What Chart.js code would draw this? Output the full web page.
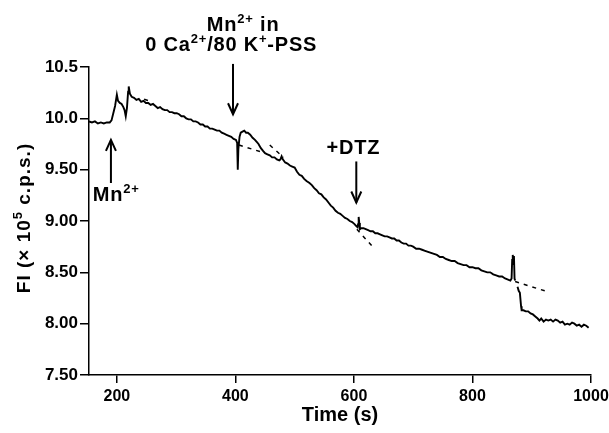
<!DOCTYPE html>
<html><head><meta charset="utf-8">
<script src="https://cdn.jsdelivr.net/npm/chart.js@4/dist/chart.umd.min.js"></script>
<style>html,body{margin:0;padding:0;background:#fff}#wrap{width:609px;height:433px;position:relative}</style>
</head><body><div id="wrap"><canvas id="c" width="609" height="433"></canvas></div>
<script>
// ---- data ----
const timeS = [153,158,163,168,173,178,183,188,191,194,197,200,202,205,208,211,213,215,217,219,220,222,225,229,233,237,241,245,249,253,257,261,265,269,273,277,281,285,289,293,297,301,305,309,313,317,321,325,329,333,337,341,345,349,353,357,361,365,369,373,377,381,385,389,393,397,401,403,404,405,407,409,412,415,418,421,425,429,433,436,439,443,447,450,454,458,462,466,470,474,476,478,480,484,488,492,496,500,504,508,512,516,520,525,529,533,537,541,545,549,553,557,561,565,569,573,577,581,585,589,593,597,601,604,606,607,608,609,610,612,616,620,624,628,632,636,640,644,648,652,656,660,664,668,672,676,680,684,688,692,696,700,705,710,715,720,725,730,735,740,745,750,755,760,765,770,775,780,785,790,795,800,805,810,815,820,825,830,835,840,845,850,855,860,864,866,867,868,869,870,871,872,873,876,878,880,882,883,886,890,894,898,902,906,910,913,916,920,924,928,932,936,940,944,948,952,956,960,964,968,972,976,980,984,988,992,996];
const fluor = [9.97,9.96,9.97,9.95,9.96,9.95,9.96,9.96,9.98,10.05,10.12,10.23,10.17,10.15,10.14,10.11,10.08,10.02,10.10,10.26,10.31,10.24,10.21,10.20,10.18,10.19,10.16,10.17,10.15,10.15,10.13,10.14,10.12,10.10,10.11,10.09,10.08,10.08,10.06,10.06,10.05,10.05,10.04,10.02,10.02,10.00,9.99,9.99,9.97,9.97,9.96,9.94,9.94,9.92,9.92,9.90,9.90,9.89,9.88,9.88,9.86,9.85,9.84,9.83,9.82,9.80,9.79,9.76,9.50,9.70,9.82,9.86,9.87,9.88,9.86,9.86,9.84,9.81,9.79,9.77,9.75,9.71,9.68,9.66,9.65,9.64,9.62,9.62,9.60,9.59,9.60,9.63,9.60,9.57,9.56,9.54,9.53,9.52,9.48,9.45,9.44,9.41,9.39,9.37,9.35,9.32,9.30,9.27,9.26,9.23,9.21,9.18,9.15,9.13,9.10,9.08,9.07,9.05,9.03,9.02,9.00,8.99,8.97,8.95,8.94,8.97,9.04,8.98,8.92,8.93,8.93,8.92,8.91,8.90,8.90,8.88,8.88,8.87,8.86,8.85,8.85,8.84,8.83,8.83,8.81,8.81,8.79,8.78,8.78,8.76,8.76,8.75,8.73,8.73,8.72,8.71,8.70,8.69,8.68,8.67,8.65,8.65,8.63,8.62,8.61,8.61,8.59,8.58,8.57,8.57,8.55,8.55,8.54,8.54,8.52,8.51,8.50,8.50,8.48,8.47,8.46,8.46,8.44,8.43,8.42,8.44,8.62,8.67,8.58,8.66,8.44,8.42,null,8.36,8.32,8.30,8.17,8.13,8.13,8.12,8.12,8.10,8.09,8.07,8.05,8.03,8.05,8.02,8.04,8.03,8.04,8.02,8.04,8.03,8.01,8.02,7.99,8.00,7.99,8.01,8.00,7.98,7.99,7.97,7.99,7.98,7.96];

// dashed extrapolation lines (time pairs, value pairs)
const dashTimes  = [[246,260],[406,445],[458,481],[605,633],[872,922]];
const dashValues = [[10.185,10.16],[9.74,9.67],[9.74,9.62],[8.92,8.74],[8.41,8.32]];

const xTicks = [200,400,600,800,1000];
const xTickLabels = ['200','400','600','800','1000'];
const yTicks = [7.5,8,8.5,9,9.5,10,10.5];
const yTickLabels = ['7.50','8.00','8.50','9.00','9.50','10.0','10.5'];
const xTitle = 'Time (s)';
const yTitleParts = [['FI (\u00d7 10'],['5',1],[' c.p.s.)']];

// annotations: arrows (time, from value, to value) and labels (rich parts, time, baseline value)
const arrowT = [190, 396, 604];
const arrowFrom = [9.37, 10.53, 9.58];
const arrowTo = [9.79, 10.04, 9.18];
const labelParts = [
  [['Mn'],['2+',1],[' in']],
  [['0 Ca'],['2+',1],['/80 K'],['+',1],['-PSS']],
  [['+DTZ']],
  [['Mn'],['2+',1]]
];
const labelT = [413, 393, 599, 199];
const labelV = [10.85, 10.653, 9.65, 9.19];

// ---- chart ----
const FONT = '"Liberation Sans", Arial, Helvetica, sans-serif';
const mainData = timeS.map((t,i)=>({x:t, y:fluor[i]}));
const datasets = [{
  data: mainData, borderColor:'#000', borderWidth:1.9, pointRadius:0, tension:0, spanGaps:false, fill:false
}];
dashTimes.forEach((tt,k)=>{
  datasets.push({
    data: tt.map((t,i)=>({x:t, y:dashValues[k][i]})),
    borderColor:'#000', borderWidth:1.5, borderDash:[4,5], pointRadius:0, fill:false
  });
});

function drawRich(ctx, parts, cx, yb, size, sup, rise){
  let w = 0;
  parts.forEach(p=>{ ctx.font = 'bold '+(p[1]?sup:size)+'px '+FONT; w += ctx.measureText(p[0]).width; });
  let x = cx - w/2;
  parts.forEach(p=>{
    ctx.font = 'bold '+(p[1]?sup:size)+'px '+FONT;
    ctx.fillText(p[0], x, p[1] ? yb-rise : yb);
    x += ctx.measureText(p[0]).width;
  });
}

const annot = {
  id:'annot',
  afterDraw(chart){
    const ctx = chart.ctx, xs = chart.scales.x, ys = chart.scales.y, ca = chart.chartArea;
    ctx.save();
    ctx.strokeStyle='#000'; ctx.fillStyle='#000';
    ctx.lineWidth = 2; ctx.lineCap='butt';
    arrowT.forEach((t,i)=>{
      const x = xs.getPixelForValue(t);
      const y0 = ys.getPixelForValue(arrowFrom[i]);
      const y1 = ys.getPixelForValue(arrowTo[i]);
      const dir = y1 > y0 ? 1 : -1;
      ctx.beginPath(); ctx.moveTo(x,y0); ctx.lineTo(x,y1); ctx.stroke();
      ctx.beginPath();
      ctx.moveTo(x-5, y1 - dir*11); ctx.lineTo(x, y1); ctx.lineTo(x+5, y1 - dir*11);
      ctx.stroke();
    });
    ctx.textBaseline = 'alphabetic';
    ctx.textAlign = 'left';
    ctx.letterSpacing = '0.8px';
    labelParts.forEach((parts,i)=>{
      drawRich(ctx, parts, xs.getPixelForValue(labelT[i]), ys.getPixelForValue(labelV[i]), 20, 13, 8);
    });
    // y-axis title, rotated
    ctx.letterSpacing = '1px';
    ctx.save();
    ctx.translate(ca.left - 59, (ca.top + ca.bottom)/2 - 3);
    ctx.rotate(-Math.PI/2);
    drawRich(ctx, yTitleParts, 0, 0, 19, 13, 8);
    ctx.restore();
    ctx.restore();
  }
};

new Chart(document.getElementById('c'), {
  type:'line',
  data:{datasets},
  plugins:[annot],
  options:{
    responsive:false, animation:false, devicePixelRatio:1,
    layout:{padding:{top:67, right:18, bottom:0, left:0}},
    plugins:{legend:{display:false}, tooltip:{enabled:false}},
    scales:{
      x:{
        type:'linear', min:153, max:1000,
        afterBuildTicks(s){ s.ticks = xTicks.map(v=>({value:v})); },
        afterFit(s){ s.height = 58; s.paddingLeft = 0; s.paddingRight = 0; },
        grid:{display:true, drawOnChartArea:false, drawTicks:true, tickLength:8, color:'#000', lineWidth:1.5},
        border:{display:true, color:'#000', width:1.5},
        ticks:{color:'#000', font:{family:FONT, size:16, weight:'bold'}, padding:4, maxRotation:0,
          callback(v){ const k = xTicks.indexOf(v); return k>=0 ? xTickLabels[k] : ''; }},
        title:{display:true, text:xTitle, color:'#000', font:{family:FONT, size:20, weight:'bold'}, padding:{top:0,bottom:6}}
      },
      y:{
        type:'linear', min:7.5, max:10.5,
        afterBuildTicks(s){ s.ticks = yTicks.map(v=>({value:v})); },
        afterFit(s){ s.width = 89; },
        grid:{display:true, drawOnChartArea:false, drawTicks:true, tickLength:9, color:'#000', lineWidth:1.5},
        border:{display:true, color:'#000', width:1.5},
        ticks:{color:'#000', font:{family:FONT, size:17, weight:'bold'}, padding:2,
          callback(v){ const k = yTicks.indexOf(v); return k>=0 ? yTickLabels[k] : ''; }},
        title:{display:false}
      }
    }
  }
});
</script></body></html>
